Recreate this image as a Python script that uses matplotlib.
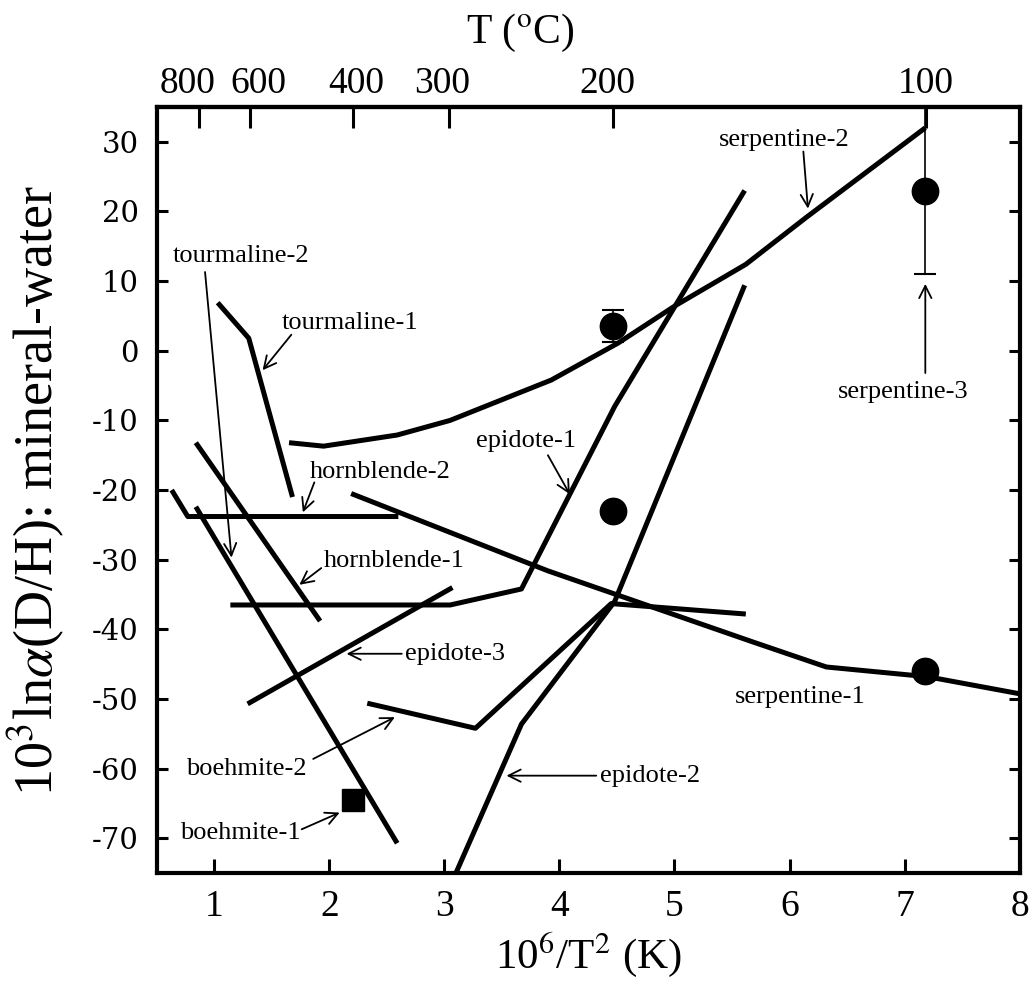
import matplotlib
matplotlib.use('Agg')
import matplotlib.pyplot as plt
import matplotlib.transforms as mtransforms
import numpy as np

plt.rcParams['font.family'] = 'Liberation Serif'
plt.rcParams['mathtext.fontset'] = 'stix'
plt.rcParams['axes.unicode_minus'] = False

# ---- curves: x = 10^6/T^2 (K), y = 10^3 ln alpha(D/H) mineral-water
serp1_x = [2.19, 3.90, 5.68, 6.32, 7.20, 8.05]
serp1_y = [-20.5, -31.6, -41.8, -45.4, -46.8, -49.4]
serp2_x = [1.65, 1.95, 2.59, 3.05, 3.49, 3.93, 4.51, 5.01, 5.62, 6.15, 7.18]
serp2_y = [-13.2, -13.7, -12.1, -10.0, -7.1, -4.2, 1.1, 6.5, 12.4, 19.2, 32.0]
epi1_x = [1.14, 3.05, 3.67, 4.48, 5.61]
epi1_y = [-36.5, -36.5, -34.2, -8.0, 23.0]
epi2_x = [3.10, 3.67, 4.48, 5.61]
epi2_y = [-75.0, -53.6, -36.0, 9.4]
epi3_x = [1.29, 3.07]
epi3_y = [-50.7, -34.0]
boeh2_x = [2.33, 3.27, 4.45, 5.62]
boeh2_y = [-50.6, -54.2, -36.3, -37.8]
horn1_x = [0.84, 1.92]
horn1_y = [-13.2, -38.8]
horn2_x = [0.63, 0.77, 2.60]
horn2_y = [-20.0, -23.8, -23.8]
tour1_x = [1.03, 1.30, 1.68]
tour1_y = [6.9, 1.8, -21.0]
tour2_x = [0.84, 2.59]
tour2_y = [-22.4, -70.7]

# ---- measured points
circ_x = [4.47, 4.47, 7.18, 7.18]
circ_y = [3.5, -23.0, 23.0, -46.0]
circ_err = [2.3, 0.0, 12.0, 0.0]
boeh1_x = [2.21]
boeh1_y = [-64.5]

# ---- top axis temperatures (deg C)
temp_c = [800, 600, 400, 300, 200, 100]

curves = [
    (serp1_x, serp1_y), (serp2_x, serp2_y), (epi1_x, epi1_y), (epi2_x, epi2_y),
    (epi3_x, epi3_y), (boeh2_x, boeh2_y), (horn1_x, horn1_y), (horn2_x, horn2_y),
    (tour1_x, tour1_y), (tour2_x, tour2_y),
]

fig = plt.figure(figsize=(10.31, 9.90), dpi=100)
ax = fig.add_axes([0.152, 0.118, 0.837, 0.774])

for cx, cy in curves:
    ax.plot(cx, cy, color='black', lw=3.6, solid_capstyle='butt', solid_joinstyle='round')

# error bars (thin) then symbols
for xx, yy, ee in zip(circ_x, circ_y, circ_err):
    if ee > 0:
        ax.errorbar(xx, yy, yerr=ee, fmt='none', ecolor='black', elinewidth=1.2,
                    capsize=8, capthick=1.5)
ax.plot(circ_x, circ_y, 'o', color='black', markersize=19, zorder=5)
ax.plot(boeh1_x, boeh1_y, 's', color='black', markersize=16, zorder=5)

# labels: (text, text x, text y, ha, arrow tail, arrow tip)
notes = [
    ('serpentine-2', 5.95, 30.2, 'center', (6.12, 28.6), (6.16, 20.4)),
    ('serpentine-3', 6.99, -5.9, 'center', (7.18, -3.2), (7.18, 9.6)),
    ('serpentine-1', 6.09, -49.7, 'center', None, None),
    ('epidote-1', 3.71, -13.0, 'center', (3.90, -15.0), (4.09, -20.6)),
    ('epidote-2', 4.35, -61.0, 'left', (4.32, -61.0), (3.54, -61.0)),
    ('epidote-3', 2.66, -43.5, 'left', (2.63, -43.5), (2.15, -43.5)),
    ('hornblende-1', 2.56, -30.2, 'center', (1.93, -31.2), (1.74, -33.6)),
    ('hornblende-2', 2.44, -17.4, 'center', (1.87, -18.9), (1.77, -23.2)),
    ('tourmaline-1', 2.18, 4.0, 'center', (1.67, 2.3), (1.42, -2.8)),
    ('tourmaline-2', 1.23, 13.6, 'center', (0.92, 11.3), (1.15, -29.7)),
    ('boehmite-2', 1.28, -60.1, 'center', (1.86, -58.6), (2.57, -52.6)),
    ('boehmite-1', 1.23, -69.2, 'center', (1.76, -68.7), (2.09, -66.3)),
]
for txt, tx, ty, ha, tail, tip in notes:
    ax.text(tx, ty, txt, fontsize=19, ha=ha, va='center')
    if tail is not None:
        ax.annotate('', xy=tip, xytext=tail,
                    arrowprops=dict(arrowstyle='->', lw=1.3, color='black',
                                    mutation_scale=22, shrinkA=0, shrinkB=0))

ax.set_xlim(0.5, 8)
ax.set_ylim(-75, 35)
ax.set_xticks(np.arange(1, 9))
ax.set_yticks(np.arange(-70, 31, 10))
ax.tick_params(axis='x', direction='in', length=10, width=2.2, labelsize=27, pad=12)
ax.tick_params(axis='y', direction='in', length=8, width=2.2, right=True, pad=13)
for lab in ax.get_yticklabels():
    lab.set_fontfamily('DejaVu Serif')
    lab.set_fontsize(21)
for sp in ax.spines.values():
    sp.set_linewidth(3)

ax.set_xlabel(r'10$^6$/T$^2$ (K)', fontsize=31, labelpad=4)
ax.set_ylabel(r'10$^3$ln$\alpha$(D/H): mineral-water', fontsize=39, labelpad=18)

secax = ax.secondary_xaxis('top')
secax.set_xticks([1e6 / (t + 273.15) ** 2 for t in temp_c], [str(t) for t in temp_c])
secax.tick_params(direction='in', length=15, width=2.2, labelsize=27, pad=4)
secax.spines['top'].set_linewidth(3)

# top axis title sits left of centre in the original
fig.text(0.505, 0.945, r'T ($^{\rm o}$C)', fontsize=30, ha='center', va='bottom')

# nudge crowded top labels apart, as in the original
nudge_pt = [-8, 6, 2, -5, -4, 0]
for lab, dx in zip(secax.get_xticklabels(), nudge_pt):
    lab.set_transform(lab.get_transform() + mtransforms.ScaledTranslation(dx / 72, 0, fig.dpi_scale_trans))

fig.savefig('out.png', dpi=100)
